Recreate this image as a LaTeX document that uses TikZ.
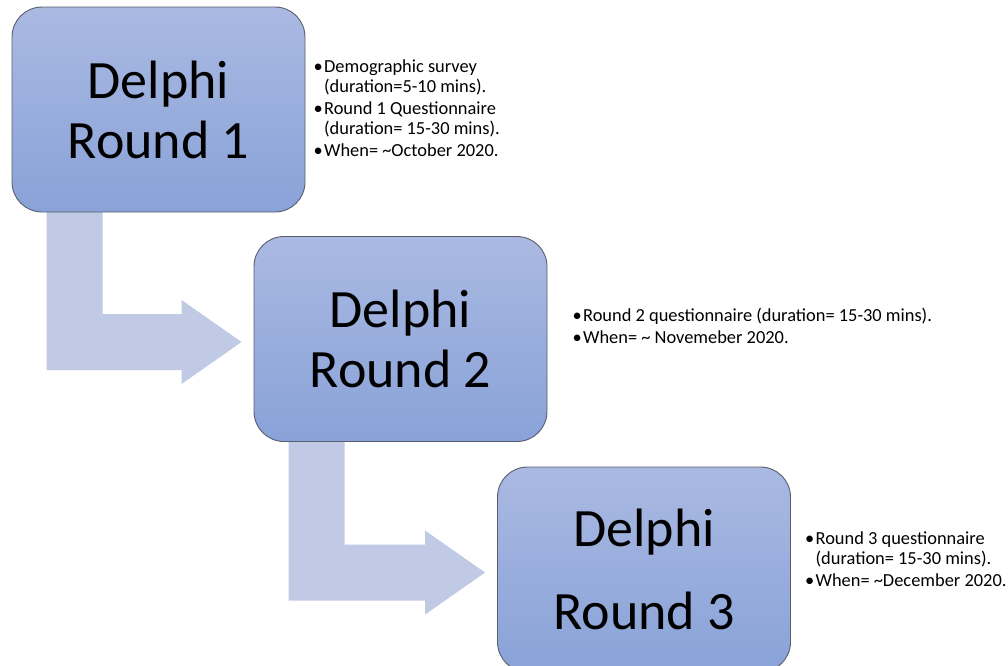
\documentclass[tikz,border=0pt]{standalone}
\usepackage{fontspec}
\setmainfont{Carlito}
\usetikzlibrary{calc,backgrounds}
\definecolor{boxtop}{RGB}{170,185,226}
\definecolor{boxbot}{RGB}{137,162,216}
\definecolor{boxline}{RGB}{88,94,110}
\definecolor{flowfill}{RGB}{192,202,229}
\newcommand{\bl}{\makebox[10.5pt][l]{\textbullet}}
\newcommand{\ind}{\hspace*{10.5pt}}
\tikzset{
  roundbox/.style={draw=boxline, line width=0.9pt, rounded corners=30pt,
    top color=boxtop, bottom color=boxbot, minimum width=293pt,
    minimum height=205pt, inner sep=0pt, align=center,
    font=\fontsize{54}{60}\selectfont},
  notes/.style={anchor=north west, inner sep=0pt, align=left,
    font=\fontsize{18.4}{19.5}\selectfont},
  flow/.style={fill=flowfill, draw=none}
}
\begin{document}
\begin{tikzpicture}[x=1pt,y=-1pt]
\useasboundingbox (0,0) rectangle (1008,665);
% the rounds
\node[roundbox] (box1) at (158.5,109.5) {Delphi\\Round 1};
\node[roundbox] (box2) at (400.5,339) {Delphi\\Round 2};
\node[roundbox] (box3) at (644,569.5) {Delphi\\[23pt]Round 3};
% bent arrows between them
\begin{pgfonlayer}{background}
\foreach \a/\b in {box1/box2, box2/box3}{
  \coordinate (l0) at ($(\a.south west)+(35,-20)$);
  \coordinate (r0) at ($(\a.south west)+(91,-20)$);
  \coordinate (tip) at ($(\b.west)+(-12,3)$);
  \coordinate (tu) at ($(tip)+(-60,-28)$);
  \coordinate (td) at ($(tip)+(-60,28)$);
  \fill[flow] (l0) -- (r0) -- (r0 |- tu) -- (tu) -- ($(tip)+(-60,-42)$)
    -- (tip) -- ($(tip)+(-60,42)$) -- (td) -- (l0 |- td) -- cycle;
}
\end{pgfonlayer}
% notes
\node[notes] (note1) at ($(box1.north east)+(8,53)$)
  {\bl Demographic survey\\\ind(duration=5-10 mins).\\[3pt]
   \bl Round 1 Questionnaire\\\ind(duration= 15-30 mins).\\[3pt]
   \bl When= \textasciitilde October 2020.};
\node[notes] (note2) at ($(box2.north east)+(25,72)$)
  {\bl Round 2 questionnaire (duration= 15-30 mins).\\[2pt]
   \bl When= \textasciitilde\ Novemeber 2020.};
\node[notes] (note3) at ($(box3.north east)+(14,65)$)
  {\bl Round 3 questionnaire\\\ind(duration= 15-30 mins).\\[3pt]
   \bl When= \textasciitilde December 2020.};
\end{tikzpicture}
\end{document}
